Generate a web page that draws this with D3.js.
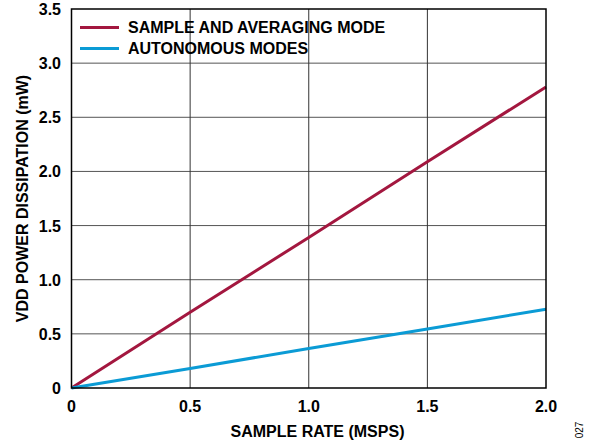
<!DOCTYPE html>
<html><head><meta charset="utf-8">
<script src="https://cdn.jsdelivr.net/npm/d3@7"></script>
<style>body{margin:0;background:#fff}text{font-family:Arial,"Liberation Sans",sans-serif;font-weight:bold}</style>
</head><body>
<svg id="c" width="591" height="446"></svg>
<script>
const sampleRate = [0, 0.5, 1.0, 1.5, 2.0];
const sampleAvg = [0, 0.70, 1.39, 2.09, 2.78];
const autonomous = [0, 0.18, 0.365, 0.545, 0.727];
const xTicks = [0, 0.5, 1.0, 1.5, 2.0];
const yTicks = [0, 0.5, 1.0, 1.5, 2.0, 2.5, 3.0, 3.5];
const seriesNames = ["SAMPLE AND AVERAGING MODE", "AUTONOMOUS MODES"];
const colors = ["#A3173F", "#0B9BD5"];

const svg = d3.select("#c");
const L = 71.5, R = 546, T = 9, B = 388;
const x = d3.scaleLinear().domain([0, 2]).range([L, R]);
const y = d3.scaleLinear().domain([0, 3.5]).range([B, T]);

// grid
svg.append("g").selectAll("line").data(yTicks.slice(1, -1)).join("line")
  .attr("x1", L).attr("x2", R).attr("y1", d => y(d)).attr("y2", d => y(d))
  .attr("stroke", "#555").attr("stroke-width", 1);
svg.append("g").selectAll("line").data(xTicks.slice(1, -1)).join("line")
  .attr("y1", T).attr("y2", B).attr("x1", d => x(d)).attr("x2", d => x(d))
  .attr("stroke", "#333").attr("stroke-width", 1);

// lines
const line = d3.line().x((d, i) => x(sampleRate[i])).y(d => y(d));
[sampleAvg, autonomous].forEach((s, k) => {
  svg.append("path").attr("d", line(s)).attr("fill", "none")
    .attr("stroke", colors[k]).attr("stroke-width", 3);
});

// frame
svg.append("rect").attr("x", L).attr("y", T).attr("width", R - L).attr("height", B - T)
  .attr("fill", "none").attr("stroke", "#000").attr("stroke-width", 1.5);

// axes labels
const fmt = d => d === 0 ? "0" : d3.format(".1f")(d);
svg.append("g").selectAll("text").data(yTicks).join("text")
  .attr("x", 61).attr("y", d => y(d) + 6).attr("text-anchor", "end")
  .attr("font-size", 16).text(fmt);
svg.append("g").selectAll("text").data(xTicks).join("text")
  .attr("x", d => x(d)).attr("y", 411.5).attr("text-anchor", "middle")
  .attr("font-size", 16).text(fmt);

svg.append("text").attr("x", 317.5).attr("y", 437).attr("text-anchor", "middle")
  .attr("font-size", 16).text("SAMPLE RATE (MSPS)");
svg.append("text").attr("transform", `translate(28,198.5) rotate(-90)`)
  .attr("text-anchor", "middle").attr("font-size", 16).text("VDD POWER DISSIPATION (mW)");
svg.append("text").attr("transform", "translate(583,430) rotate(-90)")
  .attr("text-anchor", "middle").attr("font-size", 10)
  .style("font-weight", "normal").text("027");

// legend
seriesNames.forEach((n, k) => {
  const ly = 27.5 + k * 21;
  svg.append("line").attr("x1", 80).attr("x2", 119).attr("y1", ly).attr("y2", ly)
    .attr("stroke", colors[k]).attr("stroke-width", 3);
  svg.append("text").attr("x", 128).attr("y", ly + 5.5).attr("font-size", 16).text(n);
});
</script>
</body></html>
